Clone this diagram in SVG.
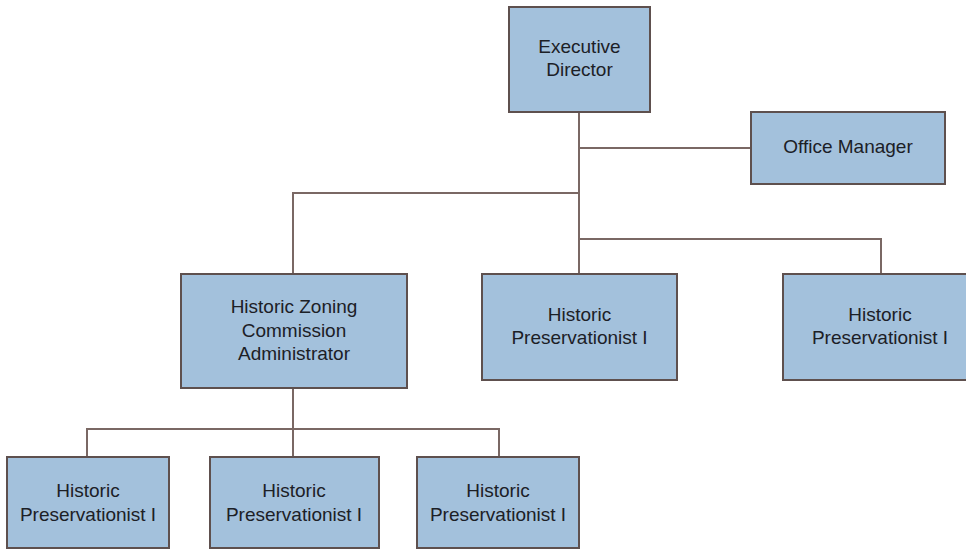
<svg xmlns="http://www.w3.org/2000/svg" width="966" height="550" viewBox="0 0 966 550">
<style>
.box{fill:#a3c1dc;stroke:#5e504e;stroke-width:2}
.lbl{font-family:"Liberation Sans",Arial,sans-serif;font-size:19px;fill:#1c2026;text-anchor:middle}
.con{fill:none;stroke:#7a6864;stroke-width:2}
</style>
<rect width="966" height="550" fill="#ffffff"/>
<g id="connectors">
<path class="con" d="M579,112 V274"/>
<path class="con" d="M579,148 H751"/>
<path class="con" d="M579,193 H293 V274"/>
<path class="con" d="M579,239 H881 V274"/>
<path class="con" d="M293,388 V457"/>
<path class="con" d="M87,457 V429 H499 V457"/>
</g>
<g id="executive-director">
<rect class="box" x="509" y="7" width="141" height="105"/>
<text class="lbl" x="579.5" y="53">Executive</text>
<text class="lbl" x="579.5" y="76">Director</text>
</g>
<g id="office-manager">
<rect class="box" x="751" y="112" width="194" height="72"/>
<text class="lbl" x="848" y="153">Office Manager</text>
</g>
<g id="hz-commission-admin">
<rect class="box" x="181" y="274" width="226" height="114"/>
<text class="lbl" x="294" y="313">Historic Zoning</text>
<text class="lbl" x="294" y="337">Commission</text>
<text class="lbl" x="294" y="360">Administrator</text>
</g>
<g id="hp-middle">
<rect class="box" x="482" y="274" width="195" height="106"/>
<text class="lbl" x="579.5" y="321">Historic</text>
<text class="lbl" x="579.5" y="344">Preservationist I</text>
</g>
<g id="hp-right">
<rect class="box" x="783" y="274" width="192" height="106"/>
<text class="lbl" x="880" y="321">Historic</text>
<text class="lbl" x="880" y="344">Preservationist I</text>
</g>
<g id="hp-bottom-1">
<rect class="box" x="7" y="457" width="162" height="91"/>
<text class="lbl" x="88" y="497">Historic</text>
<text class="lbl" x="88" y="521">Preservationist I</text>
</g>
<g id="hp-bottom-2">
<rect class="box" x="210" y="457" width="169" height="91"/>
<text class="lbl" x="294" y="497">Historic</text>
<text class="lbl" x="294" y="521">Preservationist I</text>
</g>
<g id="hp-bottom-3">
<rect class="box" x="417" y="457" width="162" height="91"/>
<text class="lbl" x="498" y="497">Historic</text>
<text class="lbl" x="498" y="521">Preservationist I</text>
</g>
</svg>
